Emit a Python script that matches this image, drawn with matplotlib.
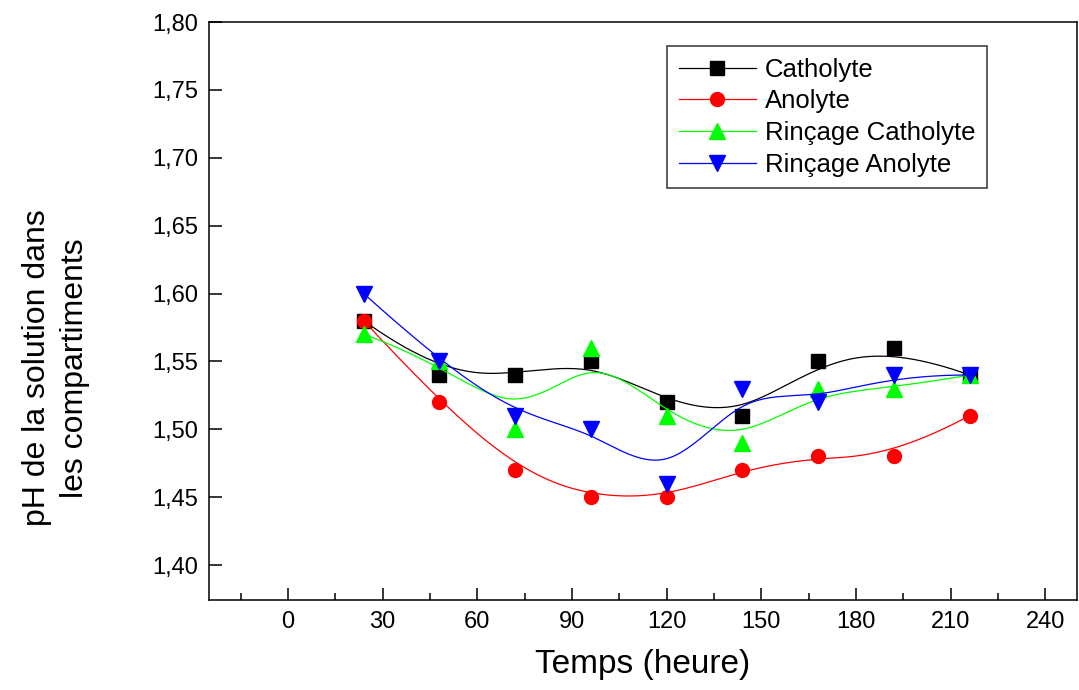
import numpy as np
import matplotlib
matplotlib.use("Agg")
import matplotlib.pyplot as plt
from matplotlib.ticker import MultipleLocator, FuncFormatter

plt.rcParams['font.family'] = ['Liberation Sans', 'DejaVu Sans']

temps = [24, 48, 72, 96, 120, 144, 168, 192, 216]
catholyte = [1.58, 1.54, 1.54, 1.55, 1.52, 1.51, 1.55, 1.56, 1.54]
anolyte = [1.58, 1.52, 1.47, 1.45, 1.45, 1.47, 1.48, 1.48, 1.51]
rincage_catholyte = [1.57, 1.55, 1.50, 1.56, 1.51, 1.49, 1.53, 1.53, 1.54]
rincage_anolyte = [1.60, 1.55, 1.51, 1.50, 1.46, 1.53, 1.52, 1.54, 1.54]


def bspline(x, y, k=3, n=300):
    # clamped uniform cubic B-spline, data points used as control points
    pts = np.column_stack([x, y]).astype(float)
    m = len(pts)
    knots = np.concatenate([np.zeros(k), np.arange(m - k + 1), np.full(k, m - k)]).astype(float)
    t = np.linspace(0, m - k, n)
    t[-1] -= 1e-9
    B = np.zeros((n, len(knots) - 1))
    for i in range(len(knots) - 1):
        B[:, i] = (knots[i] <= t) & (t < knots[i + 1])
    for d in range(1, k + 1):
        Bn = np.zeros((n, len(knots) - 1 - d))
        for i in range(len(knots) - 1 - d):
            a = knots[i + d] - knots[i]
            b = knots[i + d + 1] - knots[i + 1]
            left = (t - knots[i]) / a * B[:, i] if a > 0 else 0
            right = (knots[i + d + 1] - t) / b * B[:, i + 1] if b > 0 else 0
            Bn[:, i] = left + right
        B = Bn
    c = B @ pts
    return c[:, 0], c[:, 1]


fig = plt.figure(figsize=(10.79, 6.90), dpi=100)
ax = fig.add_axes([0.1937, 0.1304, 0.8043, 0.8377])

series = [
    ("Catholyte", catholyte, "black", "s", 9.5),
    ("Anolyte", anolyte, "red", "o", 10),
    ("Rinçage Catholyte", rincage_catholyte, "#00ff00", "^", 11),
    ("Rinçage Anolyte", rincage_anolyte, "blue", "v", 11),
]

handles = []
for name, vals, col, mk, ms in series:
    sx, sy = bspline(temps, vals)
    ax.plot(sx, sy, color=col, lw=0.9)
    ax.plot(temps, vals, ls="none", marker=mk, ms=ms, color=col, mec=col)
    h, = ax.plot([], [], color=col, lw=0.9, marker=mk, ms=ms, mec=col)
    h.set_label(name)
    handles.append(h)

ax.set_xlim(-25, 250)
ax.set_ylim(1.3742, 1.80)
ax.xaxis.set_major_locator(MultipleLocator(30))
ax.xaxis.set_minor_locator(MultipleLocator(15))
ax.yaxis.set_major_locator(MultipleLocator(0.05))
ax.yaxis.set_major_formatter(FuncFormatter(lambda v, p: f"{v:.2f}".replace(".", ",")))

ax.tick_params(which="both", direction="in", top=False, right=False, labelsize=17, width=1.1)
ax.tick_params(which="major", length=9, pad=8)
ax.tick_params(which="minor", length=5)
for s in ax.spines.values():
    s.set_linewidth(1.1)

fig.text(643 / 1079, 1 - 665 / 690, "Temps (heure)", fontsize=24, ha="center", va="center")
fig.text(56 / 1079, 1 - 368 / 690, "pH de la solution dans\nles compartiments", fontsize=23,
         rotation=90, ha="center", va="center", linespacing=1.35)

leg = ax.legend(handles=handles, loc="upper left", bbox_to_anchor=(0.5277, 0.9585), fontsize=18.5,
                frameon=True, fancybox=False, edgecolor="black", handlelength=3.0,
                borderpad=0.45, labelspacing=0.3, handletextpad=0.35, borderaxespad=0)
leg.get_frame().set_linewidth(1.1)

fig.savefig("out.png", dpi=100)
